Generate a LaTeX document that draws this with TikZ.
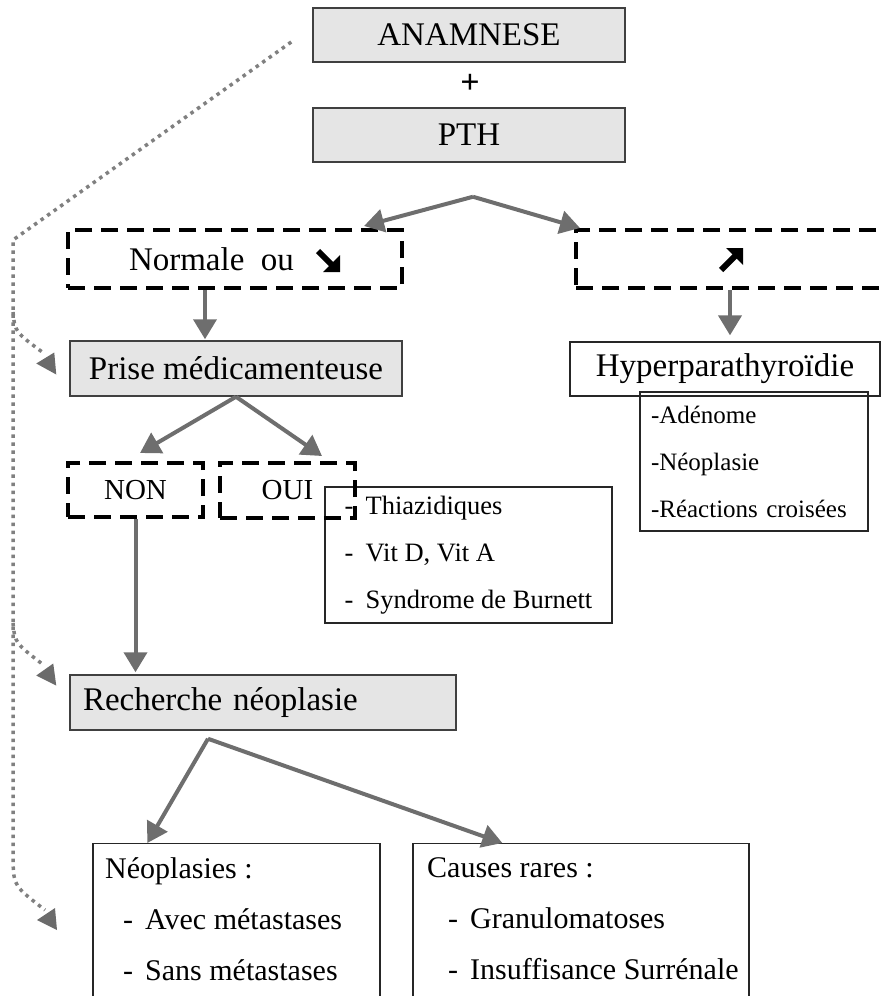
\documentclass[tikz,border=0pt]{standalone}
\usepackage{fontspec}
\setmainfont{Liberation Serif}
\usetikzlibrary{arrows.meta,calc}
\newcommand{\fsz}[2]{\fontsize{#1}{#2}\selectfont}
\begin{document}
\begin{tikzpicture}[x=1pt,y=-1pt,
  graybox/.style={draw=black!75, line width=1.5pt, fill=black!10, inner sep=0pt},
  whitebox/.style={draw=black!85, line width=1.3pt, inner sep=0pt},
  dbox/.style={draw=black, line width=4pt, dash pattern=on 17pt off 9pt, inner sep=0pt},
  arr/.style={draw=black!57, line width=4pt, -{Triangle[length=20pt,width=23pt]}},
  dotl/.style={draw=black!50, line width=3.5pt, dash pattern=on 3.5pt off 4.5pt},
  tipfill/.style={fill=black!58, draw=none},
  heavyarrow/.style={fill=black, draw=none},
  heavyshaft/.style={draw=black, line width=6pt},
  big/.style={font=\fsz{33}{40}},
  small/.style={font=\fsz{25}{47}},
  thiafont/.style={font=\fsz{26.5}{47}},
  mid/.style={font=\fsz{30}{51}}]
\useasboundingbox (0,0) rectangle (881,996);
\clip (0,0) rectangle (881,996);

% nodes
\node[graybox, big, minimum width=312, minimum height=54] (anam) at (469,35) {ANAMNESE};
\node[font=\bfseries\fsz{34}{40}, inner sep=0pt] (plus) at (470,84) {+};
\node[graybox, big, minimum width=312, minimum height=54] (pth) at (469,135) {PTH};

\node[dbox, big, minimum width=334, minimum height=58] (norm) at (235,259)
  {\makebox[212pt][l]{Normale\ \ ou}};
\node[dbox, big, minimum width=316, minimum height=58] (up) at (734,259) {};

\node[graybox, big, minimum width=332, minimum height=55] (prise) at (236,368.5) {Prise médicamenteuse};
\node[whitebox, big, minimum width=310, minimum height=54] (hyper) at (725,369) {Hyperparathyroïdie};
\node[whitebox, small, minimum width=228, minimum height=139, align=left, text width=206pt] (hlist) at (754,461.5)
  {-Adénome\\-Néoplasie\\-Réactions croisées};

\node[dbox, font=\fsz{29}{35}, minimum width=135, minimum height=54] (non) at (135.5,490) {NON};
\node[whitebox, thiafont, minimum width=287, minimum height=136, align=left] (thia) at (468.5,555)
  {\makebox[21pt][l]{-}Thiazidiques\\\makebox[21pt][l]{-}Vit D, Vit A\\\makebox[21pt][l]{-}Syndrome de Burnett};
\node[dbox, font=\fsz{29}{35}, minimum width=135, minimum height=55] (oui) at (287.5,490.5) {OUI};

\node[graybox, big, minimum width=386, minimum height=55, inner xsep=13pt, text width=360pt, align=left] (rech) at (263,702.5) {Recherche néoplasie};

\node[whitebox, minimum width=287, minimum height=180, anchor=north] (neo) at (236.5,843) {};
\node[whitebox, minimum width=336, minimum height=180, anchor=north] (rare) at (581,843) {};
\node[mid, anchor=west, align=left, inner sep=0pt] (neotxt) at (105,919)
  {Néoplasies :\\\hspace*{18pt}\makebox[22pt][l]{-}Avec métastases\\\hspace*{18pt}\makebox[22pt][l]{-}Sans métastases};
\node[mid, anchor=west, align=left, inner sep=0pt] (raretxt) at (427,919)
  {Causes rares :\\\hspace*{21pt}\makebox[22pt][l]{-}Granulomatoses\\\hspace*{21pt}\makebox[22pt][l]{-}Insuffisance Surrénale};

% heavy arrow symbols (down-right and up-right)
\coordinate (se) at ($(norm.center)+(105,13)$);
\draw[heavyshaft] ($(se)+(-22,-21)$) -- ($(se)+(-8,-7)$);
\fill[heavyarrow] (se) -- ++(0,-17) -- ++(-17,17) -- cycle;
\coordinate (ne) at ($(up.center)+(9,-11)$);
\draw[heavyshaft] ($(ne)+(-22,22)$) -- ($(ne)+(-8,8)$);
\fill[heavyarrow] (ne) -- ++(0,17) -- ++(-17,-17) -- cycle;

% connectors
\coordinate (split) at ($(pth.south)+(4,34)$);
\draw[arr] (split) -- ($(norm.north east)+(-40,-2)$);
\draw[arr] (split) -- ($(up.north west)+(6,0)$);
\draw[arr] ($(norm.south)+(-30,0)$) -- ($(prise.north)+(-31,-1)$);
\draw[arr] ($(up.south)+(-4,0)$) -- ($(hyper.north)+(5,-6)$);
\draw[arr] (prise.south) -- ($(non.north)+(4.5,-8)$);
\draw[arr] (prise.south) -- ($(oui.north)+(34.5,-5)$);
\draw[arr] (non.south) -- ($(non.south |- rech.north)+(0,-2)$);
\coordinate (split2) at ($(rech.south)+(-55,8)$);
\draw[arr] (split2) -- ($(neo.north west)+(55,0)$);
\draw[arr] (split2) -- ($(rare.north west)+(90,0)$);

% dotted feedback line
\coordinate (d0) at ($(anam.west)+(-21,7)$);
\coordinate (t1) at ($(prise.west)+(-33,-5)$);
\coordinate (t2) at ($(rech.west)+(-33,-27)$);
\coordinate (t3) at ($(neotxt.west)+(-68,1)$);
\draw[dotl] (d0) -- (13,240) -- (13,862) .. controls (14,886) .. ($(t3)+(8,-10)$);
\draw[dotl] (13,312) .. controls (15,332) .. ($(t1)+(8,-10)$);
\draw[dotl] (13,623) .. controls (15,643) .. ($(t2)+(8,-10)$);
\fill[tipfill] (t1) -- ++(18,-11) -- ++(2,22) -- cycle;
\fill[tipfill] (t2) -- ++(17,-12) -- ++(3,22) -- cycle;
\fill[tipfill] (t3) -- ++(18,-12) -- ++(2,22) -- cycle;
\end{tikzpicture}
\end{document}
